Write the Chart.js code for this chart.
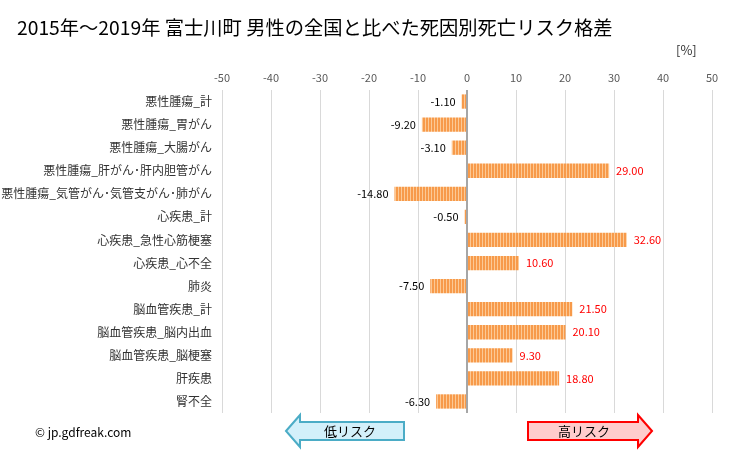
<!DOCTYPE html>
<html>
<head>
<meta charset="utf-8">
<script src="https://cdn.jsdelivr.net/npm/chart.js@4/dist/chart.umd.min.js"></script>
<style>
  body { margin: 0; background: #fff; }
  #wrap { width: 729px; height: 450px; position: relative; }
</style>
</head>
<body>
<div id="wrap"><canvas id="bar-chartcanvas" width="729" height="450"></canvas></div>
<script>
// data
var causes = ["悪性腫瘍_計", "悪性腫瘍_胃がん", "悪性腫瘍_大腸がん", "悪性腫瘍_肝がん･肝内胆管がん",
	"悪性腫瘍_気管がん･気管支がん･肺がん", "心疾患_計", "心疾患_急性心筋梗塞", "心疾患_心不全",
	"肺炎", "脳血管疾患_計", "脳血管疾患_脳内出血", "脳血管疾患_脳梗塞", "肝疾患", "腎不全"];
var riskGap = [-1.10, -9.20, -3.10, 29.00, -14.80, -0.50, 32.60, 10.60, -7.50, 21.50, 20.10, 9.30, 18.80, -6.30];
var axisTicks = [-50, -40, -30, -20, -10, 0, 10, 20, 30, 40, 50];

var FONT = "'Noto Sans CJK JP', 'Noto Sans', sans-serif";

// striped orange fill
function stripes() {
	var c = document.createElement("canvas");
	c.width = 3; c.height = 3;
	var g = c.getContext("2d");
	g.fillStyle = "#f79a4a";
	g.fillRect(0, 0, 3, 3);
	g.fillStyle = "#fcc995";
	g.fillRect(2, 0, 1, 3);
	return g.createPattern(c, "repeat");
}

var ctx = document.getElementById("bar-chartcanvas").getContext("2d");

// value labels next to bar ends
var valueLabels = {
	id: "valueLabels",
	afterDatasetsDraw: function(chart) {
		var c = chart.ctx;
		var meta = chart.getDatasetMeta(0);
		c.save();
		c.font = "11px " + FONT;
		c.textBaseline = "middle";
		meta.data.forEach(function(bar, i) {
			var v = riskGap[i];
			if (v < 0) {
				c.fillStyle = "#000";
				c.textAlign = "right";
				c.fillText(v.toFixed(2), bar.x - 6, bar.y);
			} else {
				c.fillStyle = "#ff0000";
				c.textAlign = "left";
				c.fillText(v.toFixed(2), bar.x + 7, bar.y);
			}
		});
		c.restore();
	}
};

function arrow(c, x1, x2, yc, h, head, dir, fill, stroke) {
	var hh = h / 2, top = yc - hh, bot = yc + hh, ht = yc - hh - 7, hb = yc + hh + 7;
	c.beginPath();
	if (dir < 0) {
		c.moveTo(x1, yc);
		c.lineTo(x1 + head, ht);
		c.lineTo(x1 + head, top);
		c.lineTo(x2, top);
		c.lineTo(x2, bot);
		c.lineTo(x1 + head, bot);
		c.lineTo(x1 + head, hb);
	} else {
		c.moveTo(x2, yc);
		c.lineTo(x2 - head, ht);
		c.lineTo(x2 - head, top);
		c.lineTo(x1, top);
		c.lineTo(x1, bot);
		c.lineTo(x2 - head, bot);
		c.lineTo(x2 - head, hb);
	}
	c.closePath();
	c.fillStyle = fill;
	c.fill();
	c.lineWidth = 2;
	c.strokeStyle = stroke;
	c.stroke();
}

// title, unit, footer and the two arrows
var extras = {
	id: "extras",
	afterDraw: function(chart) {
		var c = chart.ctx;
		c.save();
		c.fillStyle = "#000";
		c.textBaseline = "middle";
		c.textAlign = "left";
		c.font = "19.3px " + FONT;
		c.fillText("2015年～2019年 富士川町 男性の全国と比べた死因別死亡リスク格差", 17, 28);
		c.font = "13px " + FONT;
		c.fillStyle = "#333";
		c.fillText("[%]", 676, 50);
		c.fillStyle = "#000";
		c.font = "12px " + FONT;
		c.fillText("© jp.gdfreak.com", 35, 432);

		arrow(c, 286, 404, 431, 18, 14, -1, "#d3f0fa", "#4bacc6");
		arrow(c, 528, 652, 431, 18, 14, 1, "#ffcccc", "#ff0000");
		c.fillStyle = "#000";
		c.font = "13px " + FONT;
		c.textAlign = "center";
		c.fillText("低リスク", 350, 431);
		c.fillText("高リスク", 584, 431);
		c.restore();
	}
};

var data = {
	labels: causes,
	datasets: [
		{
			label: "リスク格差",
			data: riskGap,
			backgroundColor: stripes(),
			borderWidth: 0,
			barPercentage: 0.62,
			categoryPercentage: 1
		}
	]
};

var options = {
	indexAxis: "y",
	responsive: false,
	animation: false,
	layout: { padding: { top: 60, right: 17, bottom: 37, left: 0 } },
	plugins: {
		legend: { display: false },
		title: { display: false },
		tooltip: { enabled: false }
	},
	scales: {
		x: {
			position: "top",
			min: -50,
			max: 50,
			afterBuildTicks: function(scale) {
				scale.ticks = axisTicks.map(function(v) { return { value: v }; });
			},
			afterFit: function(scale) { scale.height = 30; },
			ticks: { color: "#595959", font: { size: 11, family: FONT }, padding: 6 },
			grid: {
				drawTicks: false,
				color: function(c) { return c.tick && c.tick.value === 0 ? "#a6a6a6" : "#d9d9d9"; },
				lineWidth: function(c) { return c.tick && c.tick.value === 0 ? 2 : 1; }
			},
			border: { display: false }
		},
		y: {
			afterFit: function(scale) { scale.width = 222; },
			ticks: { color: "#333", font: { size: 12, family: FONT }, padding: 10 },
			grid: { display: false, drawTicks: false },
			border: { display: false }
		}
	}
};

var chart = new Chart(ctx, {
	type: "bar",
	data: data,
	options: options,
	plugins: [valueLabels, extras]
});
</script>
</body>
</html>
